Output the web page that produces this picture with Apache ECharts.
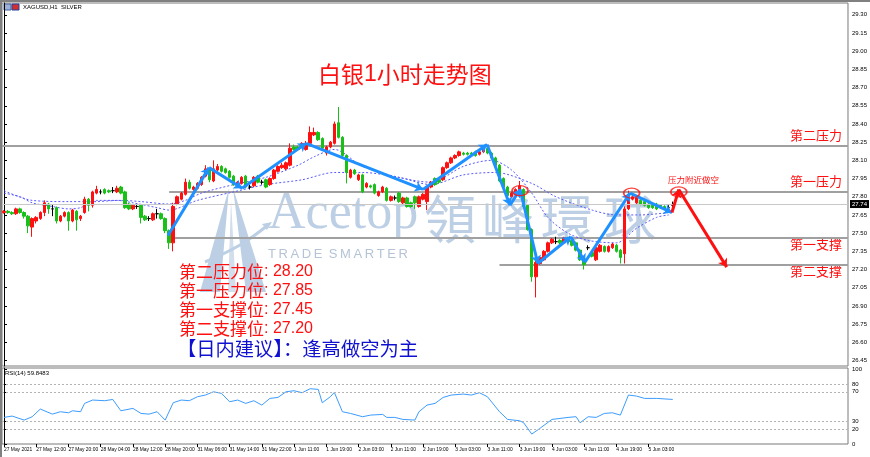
<!DOCTYPE html>
<html><head><meta charset="utf-8">
<script src="https://cdn.jsdelivr.net/npm/echarts@6.0.0/dist/echarts.min.js"></script>
<style>html,body{margin:0;padding:0;background:#fff}#c{width:870px;height:457px}</style>
</head><body><div id="c"></div><script>
// ---------- DATA ----------
const opens  = [27.67,27.68,27.67,27.66,27.70,27.67,27.64,27.55,27.60,27.62,27.67,27.74,27.70,27.71,27.60,27.64,27.67,27.60,27.68,27.62,27.67,27.78,27.73,27.83,27.84,27.86,27.85,27.85,27.84,27.88,27.84,27.74,27.70,27.72,27.73,27.64,27.62,27.61,27.66,27.66,27.62,27.52,27.42,27.74,27.78,27.82,27.92,27.86,27.87,27.90,27.97,28.02,27.93,28.02,28.05,28.03,28.01,27.97,27.90,27.91,27.97,27.88,27.89,27.97,27.92,27.94,27.90,27.95,28.01,28.04,28.03,28.06,28.21,28.21,28.21,28.19,28.24,28.31,28.33,28.28,28.16,28.21,28.24,28.41,28.29,28.14,27.96,28.02,27.94,27.98,27.88,27.89,27.90,27.81,27.84,27.87,27.77,27.79,27.83,27.75,27.79,27.75,27.80,27.72,27.78,27.76,27.88,27.95,27.94,27.94,28.04,28.08,28.12,28.14,28.16,28.16,28.16,28.17,28.15,28.17,28.20,28.16,28.12,28.06,27.95,27.88,27.80,27.82,27.85,27.86,27.73,27.53,27.14,27.25,27.28,27.35,27.42,27.43,27.44,27.42,27.46,27.44,27.42,27.36,27.29,27.38,27.34,27.28,27.35,27.39,27.35,27.38,27.40,27.36,27.33,27.70,27.78,27.75,27.77,27.76,27.74,27.74,27.74,27.73,27.72,27.71,27.73];
const closes = [27.68,27.67,27.66,27.70,27.67,27.64,27.56,27.62,27.63,27.67,27.75,27.70,27.70,27.60,27.64,27.67,27.60,27.69,27.61,27.64,27.78,27.73,27.84,27.86,27.84,27.83,27.84,27.85,27.87,27.83,27.71,27.70,27.73,27.72,27.63,27.61,27.62,27.66,27.66,27.62,27.52,27.42,27.72,27.80,27.83,27.92,27.87,27.88,27.91,27.96,28.03,27.94,28.03,28.05,28.01,28.00,27.96,27.90,27.92,27.96,27.88,27.88,27.96,27.92,27.92,27.88,27.95,28.02,28.05,28.06,28.08,28.20,28.19,28.19,28.24,28.24,28.33,28.33,28.27,28.20,28.21,28.25,28.40,28.29,28.14,28.00,28.02,27.99,27.98,27.84,27.91,27.88,27.83,27.84,27.88,27.77,27.80,27.79,27.76,27.79,27.72,27.72,27.75,27.80,27.82,27.88,27.92,27.90,27.92,28.04,28.08,28.12,28.14,28.17,28.15,28.15,28.15,28.14,28.17,28.20,28.16,28.12,28.06,27.93,27.88,27.81,27.83,27.86,27.89,27.72,27.53,27.14,27.26,27.30,27.35,27.42,27.45,27.43,27.42,27.46,27.43,27.40,27.36,27.28,27.24,27.38,27.31,27.38,27.40,27.35,27.39,27.41,27.35,27.30,27.70,27.82,27.80,27.79,27.74,27.73,27.71,27.71,27.70,27.71,27.70,27.71,27.73];
const lows   = [27.66,27.66,27.65,27.65,27.66,27.62,27.50,27.47,27.58,27.61,27.64,27.66,27.64,27.58,27.59,27.63,27.52,27.59,27.52,27.60,27.66,27.68,27.71,27.82,27.82,27.82,27.83,27.83,27.83,27.82,27.70,27.69,27.69,27.70,27.58,27.60,27.60,27.60,27.62,27.61,27.50,27.37,27.35,27.73,27.77,27.81,27.86,27.85,27.86,27.89,27.96,27.92,27.92,28.01,28.00,27.99,27.95,27.89,27.88,27.90,27.87,27.86,27.88,27.91,27.90,27.87,27.89,27.94,28.00,28.03,28.02,28.05,28.18,28.18,28.20,28.18,28.23,28.30,28.26,28.19,28.14,28.20,28.23,28.28,28.13,27.91,27.95,27.98,27.93,27.83,27.87,27.87,27.82,27.80,27.83,27.76,27.76,27.77,27.75,27.74,27.71,27.71,27.70,27.71,27.77,27.69,27.87,27.89,27.91,27.93,28.03,28.07,28.11,28.13,28.14,28.14,28.14,28.13,28.14,28.16,28.15,28.11,28.05,27.92,27.87,27.80,27.79,27.81,27.84,27.71,27.52,27.10,26.97,27.24,27.27,27.34,27.41,27.41,27.41,27.41,27.42,27.39,27.35,27.27,27.20,27.36,27.30,27.27,27.34,27.34,27.34,27.37,27.34,27.25,27.25,27.69,27.77,27.74,27.73,27.72,27.70,27.70,27.69,27.70,27.69,27.69,27.70];
const highs  = [27.69,27.69,27.68,27.71,27.71,27.68,27.65,27.63,27.64,27.68,27.77,27.75,27.74,27.72,27.65,27.68,27.68,27.70,27.69,27.65,27.80,27.79,27.85,27.89,27.86,27.87,27.86,27.88,27.89,27.89,27.85,27.75,27.74,27.74,27.74,27.65,27.64,27.67,27.70,27.67,27.63,27.53,27.75,27.81,27.84,27.95,27.94,27.89,27.92,27.97,28.06,28.03,28.10,28.07,28.06,28.04,28.02,27.98,27.93,27.97,27.98,27.90,27.97,27.98,27.94,27.95,27.96,28.03,28.06,28.08,28.09,28.24,28.23,28.22,28.25,28.26,28.38,28.37,28.34,28.29,28.22,28.26,28.42,28.54,28.30,28.15,28.03,28.03,27.99,27.99,27.92,27.90,27.91,27.85,27.89,27.88,27.81,27.81,27.84,27.80,27.80,27.76,27.81,27.81,27.83,27.89,27.93,27.96,27.95,28.05,28.09,28.13,28.15,28.18,28.17,28.17,28.17,28.18,28.18,28.21,28.21,28.17,28.13,28.07,27.96,27.89,27.84,27.87,27.93,27.87,27.74,27.54,27.27,27.31,27.36,27.43,27.46,27.47,27.45,27.47,27.47,27.45,27.43,27.37,27.30,27.40,27.35,27.39,27.41,27.40,27.40,27.42,27.41,27.37,27.72,27.85,27.82,27.81,27.78,27.77,27.75,27.75,27.75,27.74,27.73,27.73,27.76];
const slotCount = 210;
const timeLabels = ['27 May 2021','27 May 12:00','27 May 20:00','28 May 04:00','28 May 12:00','28 May 20:00','31 May 06:00','31 May 14:00','31 May 22:00','1 Jun 11:00','1 Jun 19:00','2 Jun 03:00','2 Jun 11:00','2 Jun 19:00','3 Jun 03:00','3 Jun 11:00','3 Jun 19:00','4 Jun 03:00','4 Jun 11:00','4 Jun 19:00','5 Jun 03:00'];
const priceTicks = [26.45,26.60,26.75,26.90,27.05,27.20,27.35,27.50,27.65,27.80,27.95,28.10,28.25,28.40,28.55,28.70,28.85,29.00,29.15,29.30];
const rsiTicks = [0,20,30,70,80,100];
const rsiLevels = [20,30,70,80];
const maFast = [[0,27.85],[7,27.77],[16,27.76],[22,27.76],[29,27.77],[34,27.76],[41,27.74],[45,27.77],[49,27.83],[57,27.90],[65,27.96],[73,28.06],[77,28.13],[82,28.19],[89,28.05],[98,27.96],[106,27.92],[114,28.05],[121,28.10],[126,28.02],[131,27.83],[135,27.63],[140,27.50],[145,27.44],[152,27.42],[157,27.54],[162,27.63],[165,27.65]];
const maSlow = [[0,27.83],[4,27.80],[7,27.75],[12,27.72],[16,27.70],[19,27.71],[23,27.77],[28,27.77],[32,27.75],[38,27.71],[41,27.69],[48,27.77],[57,27.84],[65,27.90],[74,27.94],[82,28.00],[89,28.00],[98,27.96],[106,27.90],[114,27.98],[122,28.00],[131,27.91],[137,27.80],[146,27.69],[152,27.65],[158,27.65],[165,27.67]];
const rsi = [[0,35.7],[2,37.5],[5,32.1],[7,36.6],[9,46.9],[12,40.1],[14,43.3],[16,41.9],[17,44.6],[19,43.3],[20,54.5],[22,59.0],[25,58.1],[27,59.8],[29,44.6],[32,47.8],[34,41.0],[36,40.1],[38,43.3],[40,32.1],[42,55.4],[44,59.0],[46,58.1],[48,63.4],[50,65.7],[52,70.1],[54,67.9],[56,56.7],[58,59.0],[60,54.5],[62,58.1],[64,52.2],[66,61.2],[68,62.5],[70,70.1],[72,71.5],[74,68.8],[76,74.2],[78,73.3],[79,55.4],[81,63.4],[82,69.3],[84,43.3],[86,41.0],[89,36.6],[91,38.8],[94,39.7],[95,35.7],[97,35.7],[99,33.0],[102,32.1],[103,43.3],[105,52.2],[107,54.5],[109,62.5],[111,65.7],[114,67.0],[116,65.7],[118,68.8],[120,63.4],[123,43.3],[125,33.0],[128,31.2],[129,28.5],[131,13.3],[133,20.9],[136,33.0],[138,34.3],[140,35.7],[142,36.6],[143,28.5],[145,36.6],[147,35.7],[149,41.0],[151,41.9],[153,38.8],[155,65.7],[157,64.3],[159,61.2],[162,61.2],[166,59.8]];
const lastPrice = 27.74;
const levelLines = [[-0.5,28.22],[41,27.845],[41,27.465],[123,27.24]]; // [start slot, price]
const levelNames = ['第二压力','第一压力','第一支撑','第二支撑'];
const levelText = [['第二压力位',28.20],['第一压力位',27.85],['第一支撑位',27.45],['第二支撑位',27.20]];
const bluePath = [[40.7,27.48],[50.9,28.04],[59.1,27.87],[75.0,28.24],[104.0,27.86],[119.9,28.23],[125.6,27.73],[128.1,27.86],[132.5,27.25],[140.7,27.47],[144.2,27.26],[155.4,27.83],[165.8,27.67]];
const redPath = [[165.8,27.67],[167.5,27.86],[179.4,27.22]];
const circles = [[128.1,27.85],[155.8,27.83],[167.5,27.84]];

// ---------- BUILD ----------
const slots = Array.from({length: slotCount}, (_, i) => i);
const candles = opens.map((o, i) => [o, closes[i], lows[i], highs[i]]);
const isTick = i => i % 8 === 0 && (i / 8) < timeLabels.length;
const seg = pts => pts.slice(1).map((p, k) => ({coords: [pts[k], p]}));

const chart = echarts.init(document.getElementById('c'), null, {renderer: 'canvas'});
const small = {fontFamily: 'Liberation Sans, Arial', fontSize: 6, color: '#000'};
const cjk = 'Noto Sans CJK SC';
const wm = 'rgb(188,207,228)';
const red = '#ff1010';

chart.setOption({
  animation: false,
  backgroundColor: '#fff',
  grid: [
    {left: 2, top: 3, width: 846, height: 363, show: true, borderColor: '#7a7a7a', borderWidth: 1, backgroundColor: 'transparent'},
    {left: 2, top: 368, width: 846, height: 76, show: true, borderColor: '#7a7a7a', borderWidth: 1, backgroundColor: 'transparent'}
  ],
  xAxis: [
    {type: 'category', gridIndex: 0, data: slots, show: false, boundaryGap: true},
    {type: 'value', gridIndex: 0, min: -0.5, max: slotCount - 0.5, show: false},
    {type: 'category', gridIndex: 1, data: slots, boundaryGap: true, axisLine: {show: false},
      axisTick: {show: true, interval: (i) => isTick(i), length: 3, alignWithLabel: true, lineStyle: {color: '#000'}},
      axisLabel: Object.assign({}, small, {fontSize: 4.9, interval: (i) => isTick(i), showMinLabel: true, hideOverlap: false,
        formatter: (v, i) => isTick(i) ? timeLabels[i / 8] : '', align: 'left', margin: 3})},
    {type: 'value', gridIndex: 1, min: -0.5, max: slotCount - 0.5, show: false}
  ],
  yAxis: [
    {type: 'value', gridIndex: 0, position: 'right', min: 26.405, max: 29.397, splitLine: {show: false},
      axisLine: {show: true, lineStyle: {color: '#000'}},
      axisTick: {show: true, customValues: priceTicks, length: 3, lineStyle: {color: '#000'}},
      axisLabel: Object.assign({}, small, {customValues: priceTicks, formatter: v => v.toFixed(2), margin: 4})},
    {type: 'value', gridIndex: 1, position: 'right', min: 0, max: 102, splitLine: {show: false},
      axisLine: {show: true, lineStyle: {color: '#000'}},
      axisTick: {show: true, customValues: rsiTicks, length: 3, lineStyle: {color: '#000'}},
      axisLabel: Object.assign({}, small, {customValues: rsiTicks, margin: 4})}
  ],
  series: [
    {type: 'lines', coordinateSystem: 'cartesian2d', xAxisIndex: 1, yAxisIndex: 0, z: 1, silent: true,
      data: levelLines.map(l => ({coords: [[l[0], l[1]], [slotCount - 0.5, l[1]]]})),
      lineStyle: {color: '#a0a0a0', width: 2, opacity: 1}},
    {type: 'line', xAxisIndex: 1, yAxisIndex: 0, data: maSlow, showSymbol: false, smooth: 0.3, z: 2,
      lineStyle: {color: '#5a5aff', width: 1, type: [2, 2]}},
    {type: 'line', xAxisIndex: 1, yAxisIndex: 0, data: maFast, showSymbol: false, smooth: 0.3, z: 2,
      lineStyle: {color: '#5a5aff', width: 1, type: [2, 2]}},
    {type: 'candlestick', xAxisIndex: 0, yAxisIndex: 0, data: candles, barWidth: 3, z: 3,
      itemStyle: {color: red, color0: '#18c018', borderColor: red, borderColor0: '#18c018', borderColorDoji: '#000', borderWidth: 1},
      markLine: {silent: true, symbol: 'none', data: [{yAxis: lastPrice}],
        lineStyle: {color: '#c8c8c8', width: 1, type: 'solid'},
        label: {position: 'end', formatter: lastPrice.toFixed(2), backgroundColor: '#000', color: '#fff', fontSize: 6, fontFamily: 'Liberation Sans', padding: [1, 2], distance: 2}}},
    {type: 'lines', coordinateSystem: 'cartesian2d', xAxisIndex: 1, yAxisIndex: 0, z: 5, silent: true,
      data: seg(bluePath), symbol: ['none', 'arrow'], symbolSize: 8,
      lineStyle: {color: '#1e90ff', width: 3, opacity: 1}},
    {type: 'lines', coordinateSystem: 'cartesian2d', xAxisIndex: 1, yAxisIndex: 0, z: 5, silent: true,
      data: seg(redPath), symbol: ['none', 'arrow'], symbolSize: 8,
      lineStyle: {color: red, width: 3, opacity: 1}},
    {type: 'scatter', xAxisIndex: 1, yAxisIndex: 0, data: circles, symbol: 'circle', symbolSize: [16, 10], z: 6,
      itemStyle: {color: 'rgba(0,0,0,0)', borderColor: red, borderWidth: 1.5}},
    {type: 'line', xAxisIndex: 3, yAxisIndex: 1, data: rsi, showSymbol: false, z: 3,
      lineStyle: {color: '#3c9cff', width: 1},
      markLine: {silent: true, symbol: 'none', label: {show: false},
        lineStyle: {color: '#b4b4b4', width: 1, type: [2, 2]},
        data: rsiLevels.map(v => ({yAxis: v}))}}
  ],
  graphic: [
    // outer frame
    {type: 'line', shape: {x1: 0, y1: 1, x2: 870, y2: 1}, style: {stroke: '#808080', lineWidth: 2}},
    {type: 'line', shape: {x1: 1, y1: 0, x2: 1, y2: 457}, style: {stroke: '#808080', lineWidth: 2}},
    // watermark
    {type: 'polygon', z: 0, shape: {points: [[229, 188], [200, 292], [220, 292]]}, style: {fill: wm}},
    {type: 'polygon', z: 0, shape: {points: [[233, 188], [246, 292], [266, 292]]}, style: {fill: wm}},
    {type: 'polygon', z: 0, shape: {points: [[231, 200], [228, 292], [236, 292]]}, style: {fill: 'rgb(210,222,236)'}},
    {type: 'polyline', z: 0, shape: {points: [[205, 262], [240, 245], [268, 225]], smooth: 0.4}, style: {stroke: wm, lineWidth: 3, fill: null}},
    {type: 'polygon', z: 0, shape: {points: [[272, 222], [262, 224], [267, 230]]}, style: {fill: wm}},
    {type: 'text', left: 268, top: 188, z: 0, style: {text: 'Acetop', font: '52px "Liberation Serif"', fill: wm}},
    {type: 'text', left: 424, top: 193, z: 0, style: {text: '領', font: '52px "Noto Sans CJK TC"', fill: wm}},
    {type: 'text', left: 482, top: 193, z: 0, style: {text: '峰', font: '52px "Noto Sans CJK TC"', fill: wm}},
    {type: 'text', left: 541, top: 193, z: 0, style: {text: '環', font: '52px "Noto Sans CJK TC"', fill: wm}},
    {type: 'text', left: 604, top: 193, z: 0, style: {text: '球', font: '52px "Noto Sans CJK TC"', fill: wm}},
    {type: 'text', left: 268, top: 248, z: 0, style: {text: 'T\u2009R\u2009A\u2009D\u2009E\u2009 S\u2009M\u2009A\u2009R\u2009T\u2009E\u2009R', font: '13px "Liberation Sans"', fill: 'rgb(180,196,214)'}},
    // header
    {type: 'rect', shape: {x: 4, y: 4, width: 7, height: 6}, style: {fill: '#9db0d8', stroke: '#4060a0'}},
    {type: 'rect', shape: {x: 12, y: 4, width: 7, height: 6}, style: {fill: '#d03030', stroke: '#2040a0'}},
    {type: 'text', left: 23, top: 4, style: {text: 'XAGUSD,H1  SILVER', font: '6px "Liberation Sans"', fill: '#000'}},
    {type: 'text', left: 5, top: 370, style: {text: 'RSI(14) 59.8483', font: '6px "Liberation Sans"', fill: '#000'}},
    // title
    {type: 'text', left: 318, top: 63, style: {
      text: '{c|白银}{n|1}{c|小时走势图}',
      rich: {c: {font: '23px "' + cjk + '"', fill: red}, n: {font: '23px "Liberation Sans"', fill: red}}}},
    // right labels
    ...levelNames.map((t, k) => ({type: 'text', left: 790, top: [129, 175, 238, 265][k],
      style: {text: t, font: '13px "' + cjk + '"', fill: red}})),
    // level text block
    ...levelText.map((t, k) => ({type: 'text', left: 179, top: 263 + k * 19, style: {
      text: '{a|' + t[0] + '}{b|: ' + t[1].toFixed(2) + '}', fill: red,
      rich: {a: {font: '17px "' + cjk + '"', fill: red}, b: {font: '16px "Liberation Sans"', fill: red}}}})),
    {type: 'text', left: 177, top: 339, style: {text: '【日内建议】：逢高做空为主', font: '19.3px "' + cjk + '"', fill: '#1010d0'}},
    {type: 'text', left: 668, top: 176, style: {text: '压力附近做空', font: '8.5px "' + cjk + '"', fill: red}}
  ]
});
</script></body></html>
